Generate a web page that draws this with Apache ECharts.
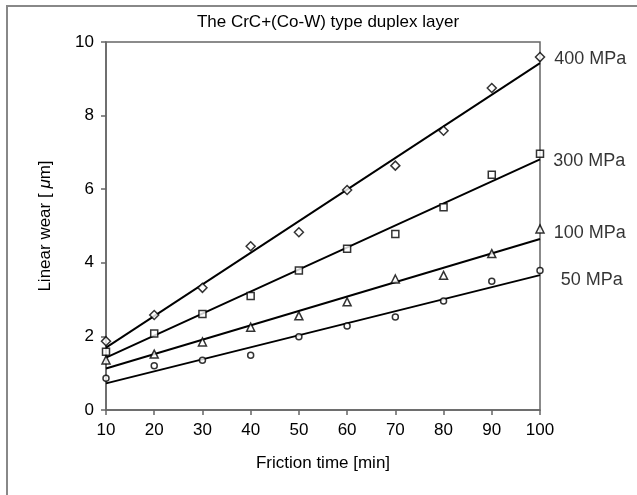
<!DOCTYPE html>
<html>
<head>
<meta charset="utf-8">
<script src="https://cdn.jsdelivr.net/npm/echarts@6/dist/echarts.min.js"></script>
<style>
  html, body { margin: 0; padding: 0; background: #fff; }
  #chart { width: 637px; height: 495px; }
</style>
</head>
<body>
<div id="chart"></div>
<script>
// friction time [min]
const times = [10, 20, 30, 40, 50, 60, 70, 80, 90, 100]

// linear wear [um]
const wear400 = [1.87, 2.58, 3.32, 4.45, 4.83, 5.98, 6.64, 7.59, 8.75, 9.59]
const wear300 = [1.58, 2.08, 2.61, 3.10, 3.79, 4.38, 4.78, 5.51, 6.39, 6.96]
const wear100 = [1.36, 1.52, 1.85, 2.25, 2.56, 2.94, 3.56, 3.66, 4.25, 4.92]
const wear50 = [0.86, 1.20, 1.35, 1.49, 1.99, 2.28, 2.53, 2.96, 3.50, 3.79]

const loadLabels = ['400 MPa', '300 MPa', '100 MPa', '50 MPa']
const yTicks = [0, 2, 4, 6, 8, 10]

const font = '"Liberation Sans", Arial, sans-serif'

// least squares trend line, drawn between the first and last time
function trend(xs, ys) {
  const n = xs.length
  const mx = xs.reduce((a, b) => a + b, 0) / n
  const my = ys.reduce((a, b) => a + b, 0) / n
  let sxy = 0, sxx = 0
  xs.forEach((x, i) => {
    sxy += (x - mx) * (ys[i] - my)
    sxx += (x - mx) * (x - mx)
  })
  const b = sxy / sxx
  const a = my - b * mx
  const x0 = xs[0], x1 = xs[n - 1]
  return [[x0, a + b * x0], [x1, a + b * x1]]
}

const groups = [
  { name: loadLabels[0], data: wear400, symbol: 'diamond', size: 9, offset: [0, 2] },
  { name: loadLabels[1], data: wear300, symbol: 'rect', size: 7, offset: [0, 7] },
  { name: loadLabels[2], data: wear100, symbol: 'triangle', size: 8, offset: [0, 4] },
  { name: loadLabels[3], data: wear50, symbol: 'circle', size: 6, offset: [8, 10] }
]

const series = []
groups.forEach(g => {
  series.push({
    name: g.name + ' trend',
    type: 'line',
    data: trend(times, g.data),
    showSymbol: false,
    lineStyle: { color: '#000', width: 1.9 },
    silent: true,
    z: 2
  })
  series.push({
    name: g.name,
    type: 'scatter',
    symbol: g.symbol,
    symbolSize: g.size,
    itemStyle: { color: '#fff', borderColor: '#000', borderWidth: 1.5 },
    data: g.data.map((v, i) => {
      const item = { value: [times[i], v] }
      if (i === g.data.length - 1) {
        item.label = {
          show: true,
          formatter: g.name,
          position: 'right',
          distance: 9,
          offset: g.offset,
          fontFamily: font,
          fontSize: 18,
          color: '#000'
        }
      }
      return item
    }),
    z: 3
  })
})

const chart = echarts.init(document.getElementById('chart'))
chart.setOption({
  animation: false,
  backgroundColor: '#fff',
  title: {
    text: 'The CrC+(Co-W) type duplex layer',
    left: 323,
    textAlign: 'center',
    top: 9,
    textStyle: { fontFamily: font, fontSize: 17, fontWeight: 'normal', color: '#000' }
  },
  grid: {
    left: 106,
    right: 97,
    top: 42,
    bottom: 85,
    containLabel: false,
    outerBoundsMode: 'none',
    show: true,
    borderColor: '#666',
    borderWidth: 1.5
  },
  xAxis: {
    type: 'value',
    min: times[0],
    max: times[times.length - 1],
    interval: 10,
    name: 'Friction time [min]',
    nameLocation: 'middle',
    nameGap: 45,
    nameTextStyle: { fontFamily: font, fontSize: 17, color: '#000' },
    axisLine: { lineStyle: { color: '#666', width: 1.5 } },
    axisTick: { show: true, inside: false, length: 5, lineStyle: { color: '#666', width: 1.5 } },
    axisLabel: { fontFamily: font, fontSize: 17, color: '#000', margin: 12 },
    splitLine: { show: false }
  },
  yAxis: {
    type: 'value',
    min: yTicks[0],
    max: yTicks[yTicks.length - 1],
    interval: 2,
    name: '{a|Linear wear [ }{b|μ}{a|m]}',
    nameLocation: 'middle',
    nameGap: 52,
    nameRotate: 90,
    nameTextStyle: {
      rich: {
        a: { fontFamily: font, fontSize: 17, color: '#000' },
        b: { fontFamily: font, fontSize: 17, fontStyle: 'italic', color: '#000' }
      }
    },
    axisLine: { show: true, lineStyle: { color: '#666', width: 1.5 } },
    axisTick: { show: true, inside: false, length: 5, lineStyle: { color: '#666', width: 1.5 } },
    axisLabel: { fontFamily: font, fontSize: 17, color: '#000', margin: 12 },
    splitLine: { show: false }
  },
  graphic: [{
    type: 'polyline',
    shape: { points: [[7, 495], [7, 6], [637, 6]] },
    style: { stroke: '#888', lineWidth: 2, fill: null },
    silent: true
  }],
  series: series
})
</script>
</body>
</html>
